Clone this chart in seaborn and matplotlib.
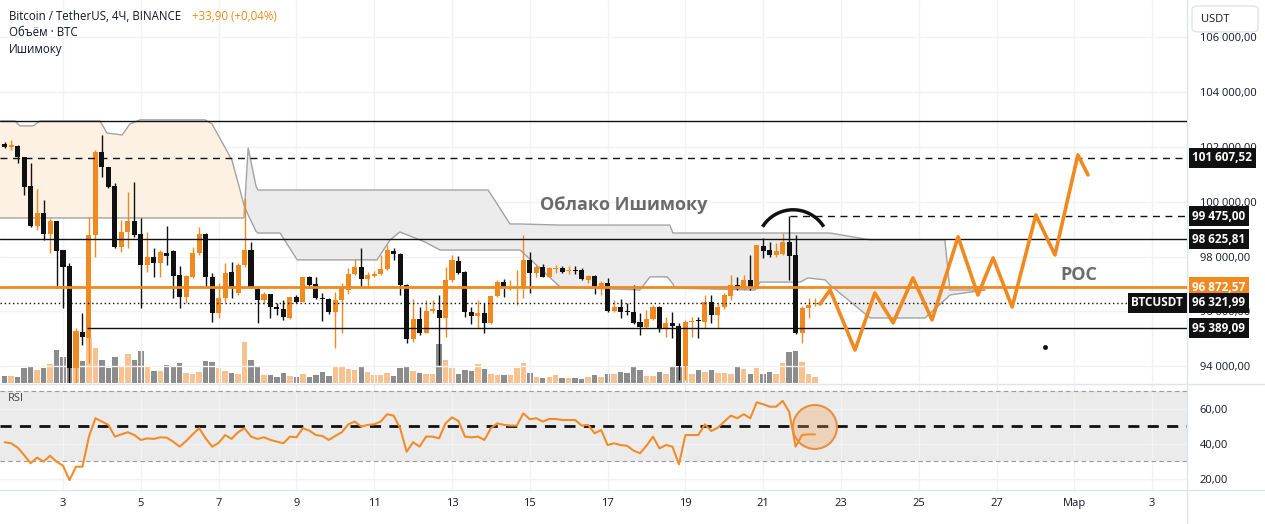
import numpy as np
import seaborn as sns
import matplotlib.pyplot as plt
from matplotlib.patches import Ellipse, FancyBboxPatch
from matplotlib.lines import Line2D

# ---- BTC/USDT 4h candles, 1 Feb 12:00 onwards ----
candle_open = [
    102110, 102000, 102040, 101640, 100580, 99120, 99590, 98820, 99300, 98240,
    97660, 93930, 95250, 95030, 98790, 101820, 101270, 100580, 98350, 98900,
    99300, 98820, 97690, 97990, 97770, 98130, 98200, 97330, 96530, 97260,
    98130, 98820, 97260, 95940, 96490, 97440, 96670, 97690, 98240, 96820,
    96420, 96630, 96160, 96090, 95760, 96530, 96340, 97260, 97000, 96490,
    96450, 95980, 96420, 96780, 97360, 97620, 97180, 97290, 97360, 97550,
    98200, 98090, 96960, 94990, 95720, 95210, 96010, 96050, 95760, 97150,
    97840, 97440, 95980, 95830, 95940, 95580, 96560, 97070, 96850, 96850,
    96850, 97880, 97400, 97620, 97260, 97550, 97580, 97470, 97510, 97510,
    97150, 97290, 96850, 97040, 96010, 96160, 96010, 95980, 95610, 95430,
    95720, 96160, 95390, 95580, 95470, 94010, 95610, 95690, 95610, 96340,
    95870, 96160, 96560, 96960, 96850, 97150, 96850, 98390, 98240, 98060,
    98090, 98530, 98060, 95210, 96120, 96270]
candle_high = [
    102180, 102260, 102070, 101640, 101420, 100470, 100070, 99410, 99300, 98240,
    97770, 95390, 95940, 99450, 101890, 102440, 101270, 100690, 99340, 100360,
    100720, 99410, 98900, 98310, 98240, 99120, 98240, 97660, 97330, 98350,
    99080, 98860, 97400, 97040, 97770, 97800, 97770, 100140, 98530, 96890,
    96710, 96630, 96310, 96420, 96530, 96600, 97260, 97290, 97260, 96670,
    96490, 96710, 97040, 97580, 97910, 98310, 97440, 97470, 98060, 98420,
    98310, 98130, 97000, 96450, 96160, 96420, 96420, 96600, 97620, 98060,
    98020, 97470, 96160, 96420, 96310, 96560, 97150, 97180, 97150, 97510,
    98790, 98170, 97690, 97730, 97620, 97690, 97660, 97660, 97660, 97580,
    97330, 97330, 97110, 97220, 96420, 96450, 96310, 96960, 95940, 96050,
    96230, 96200, 95800, 95980, 95580, 95690, 95800, 95800, 96600, 96600,
    96310, 96670, 97330, 97260, 97330, 98060, 98420, 98680, 98530, 98500,
    98860, 99475, 98790, 96200, 96490, 96490]
candle_low = [
    101960, 101890, 101420, 100250, 99080, 98970, 98610, 98130, 96850, 96120,
    92000, 92800, 94770, 94120, 97990, 100910, 100500, 98310, 98170, 98310,
    98720, 96120, 97440, 97260, 97260, 97690, 96490, 96120, 96310, 97220,
    98060, 96890, 95610, 95760, 96340, 96490, 96600, 97620, 96850, 95580,
    96270, 95760, 95870, 95690, 95720, 96310, 96340, 96850, 96450, 95650,
    95900, 94660, 95210, 96630, 97330, 96890, 96890, 97260, 97330, 97510,
    97880, 96600, 94850, 94880, 95140, 95210, 95940, 94040, 95070, 97070,
    97360, 95800, 95540, 95390, 95210, 95540, 96530, 96530, 96780, 96230,
    96490, 96670, 97260, 97260, 97240, 97400, 97400, 97360, 97360, 97150,
    97040, 96630, 96600, 95980, 95980, 95760, 95870, 95540, 95140, 95390,
    95690, 95250, 95070, 95030, 93500, 93500, 95070, 95030, 95390, 95580,
    95390, 96090, 96420, 96780, 96780, 96780, 96820, 97950, 97990, 97990,
    98060, 97150, 95170, 94850, 95760, 96200]
candle_close = [
    102000, 102070, 101640, 100540, 99120, 99590, 98820, 99300, 98200, 97620,
    93930, 95280, 95070, 98790, 101820, 101270, 100540, 98350, 98900, 99300,
    98790, 97690, 97990, 97770, 98170, 98020, 97290, 96530, 97290, 98130,
    98820, 97260, 95940, 96490, 97400, 96890, 97690, 98240, 96850, 96420,
    96630, 96160, 96090, 95800, 96530, 96340, 97260, 96960, 96490, 96450,
    95980, 96420, 96850, 97360, 97620, 97180, 97330, 97360, 97550, 98240,
    98090, 96960, 94990, 95720, 95210, 96010, 96090, 95760, 97150, 97880,
    97400, 95980, 95830, 95940, 95580, 96560, 97070, 96850, 96890, 96890,
    97880, 97400, 97620, 97260, 97580, 97580, 97440, 97510, 97470, 97180,
    97290, 96930, 97040, 96010, 96160, 95980, 95980, 95580, 95430, 95720,
    96160, 95390, 95580, 95470, 94010, 95610, 95650, 95650, 96340, 95870,
    96160, 96600, 96960, 96850, 97150, 96850, 98420, 98200, 98060, 98200,
    98530, 98020, 95210, 96120, 96230, 96320]
volume_btc = [
    1050, 1050, 900, 2250, 2400, 1950, 2250, 2850, 4950, 3900,
    4650, 3450, 3300, 6750, 5250, 3450, 2250, 3900, 2400, 4350,
    3450, 4800, 2400, 1800, 1800, 2700, 2550, 3000, 1500, 1350,
    1650, 3300, 3150, 2250, 1800, 1500, 1350, 6150, 3450, 2550,
    1200, 1200, 900, 1500, 1050, 900, 1350, 900, 1200, 1650,
    1050, 2400, 2400, 2100, 1950, 2400, 1650, 1200, 1200, 1500,
    1050, 2250, 2550, 1800, 1500, 1350, 1350, 5850, 3450, 2250,
    1350, 1950, 1800, 2850, 2100, 1350, 1200, 1200, 1200, 2250,
    3000, 1500, 900, 750, 900, 1200, 750, 750, 750, 600,
    900, 1200, 900, 1350, 1350, 1650, 1500, 2400, 1950, 1050,
    1050, 1650, 1350, 2400, 2400, 2400, 1350, 1950, 1650, 1950,
    1500, 1500, 1350, 2400, 2100, 1350, 2250, 1350, 1650, 1350,
    3000, 4650, 4800, 3150, 1350, 900]
rsi = [
    41.0, 40.4, 37.9, 33.7, 29.0, 32.2, 29.9, 33.3, 29.9, 27.6,
    19.4, 27.0, 27.0, 44.2, 54.7, 52.8, 50.9, 44.2, 45.5, 46.7,
    45.1, 42.3, 43.2, 42.9, 43.8, 43.6, 41.3, 38.5, 41.7, 45.5,
    49.0, 43.2, 38.5, 40.6, 45.1, 42.9, 46.7, 49.0, 44.2, 42.9,
    43.8, 42.3, 41.3, 40.4, 44.2, 43.8, 49.0, 47.6, 45.1, 44.6,
    42.3, 44.6, 46.7, 51.2, 52.8, 49.9, 50.9, 51.2, 52.8, 57.0,
    56.2, 49.0, 35.6, 41.0, 38.5, 44.2, 44.2, 43.2, 51.8, 55.2,
    53.1, 44.2, 43.8, 44.2, 42.3, 49.0, 51.8, 50.9, 50.5, 50.5,
    57.5, 54.1, 54.7, 52.8, 54.3, 54.3, 53.7, 53.7, 53.7, 50.5,
    50.9, 46.1, 48.0, 39.4, 40.4, 39.4, 39.0, 36.2, 34.7, 39.0,
    44.2, 37.5, 39.4, 38.5, 28.4, 45.1, 45.1, 45.1, 51.2, 47.4,
    49.3, 52.8, 56.2, 54.7, 57.0, 54.7, 63.8, 62.7, 61.3, 61.3,
    64.6, 58.5, 38.5, 45.1, 45.5, 45.5]
first_candle_day = 1.5   # 1 Feb 12:00 (day number counted from Feb 1 = 1)
bars_per_day = 6

# Ichimoku cloud edges (day, price)
cloud_day = [1.38, 1.77, 1.89, 2.23, 2.41, 3.95, 4.13, 4.52, 4.72, 4.98,
             6.65, 6.83, 7.34, 7.55, 7.65, 7.76, 7.96, 8.01, 8.58, 9.02,
             11.07, 11.41, 11.66, 12.31, 12.69, 13.93, 14.49, 14.75, 15.78, 17.83,
             18.09, 18.53, 18.60, 18.68, 18.73, 20.79, 20.92, 21.95, 22.15, 22.59,
             22.72, 23.75, 25.16, 25.67, 25.80, 26.70]
span_a = [102950, 102950, 102770, 102770, 102950, 102950, 102510, 102440, 102840, 102990,
          102990, 102840, 101530, 100430, 99880, 99520, 98930, 98860, 98860, 97880,
          97880, 98610, 98900, 98530, 98240, 98240, 98240, 98240, 96890, 96780,
          97260, 97260, 97150, 97000, 96850, 96780, 97070, 97070, 97220, 97150,
          96960, 95760, 95760, 96420, 96600, 96780]
span_b = [99410, 99410, 99410, 99410, 99410, 99410, 99410, 99410, 99410, 99410,
          99410, 99410, 99410, 99410, 99410, 101960, 100580, 100430, 100430, 100430,
          100430, 100430, 100430, 100430, 100430, 100430, 99190, 99190, 99150, 99150,
          99150, 99150, 99150, 98860, 98860, 98860, 98860, 98860, 98860, 98860,
          98860, 98610, 98610, 98610, 96780, 96780]

# drawn levels
level_top = 102950
level_target = 101607.52
level_high = 99475.00
level_resist = 98625.81
level_poc = 96872.57
last_price = 96321.99
level_support = 95389.09
high_line_start = 21.69
support_line_start = 3.62

# projected path
proj_day = [22.46, 22.72, 23.36, 23.87, 24.34, 24.85, 25.34, 26.01, 26.52, 26.91,
            27.40, 28.01, 28.50, 29.09, 29.35]
proj_price = [96270, 96780, 94590, 96670, 95580, 97220, 95690, 98720, 96600, 97950,
              96160, 99520, 98060, 101710, 100980]

price_ticks = [94000, 96000, 98000, 100000, 102000, 104000, 106000]
price_labels = ['94 000,00', '96 000,00', '98 000,00', '100 000,00', '102 000,00',
                '104 000,00', '106 000,00']
rsi_ticks = [20, 40, 60]
rsi_labels = ['20,00', '40,00', '60,00']
day_ticks = [3, 5, 7, 9, 11, 13, 15, 17, 19, 21, 23, 25, 27, 29, 31]
day_labels = ['3', '5', '7', '9', '11', '13', '15', '17', '19', '21', '23', '25', '27',
              'Мар', '3']

ORANGE = '#f0891f'
BLACK = '#111111'

sns.set_style('white')
plt.rcParams['font.family'] = ['Open Sans', 'DejaVu Sans']

W, H = 1265, 524
fig = plt.figure(figsize=(W / 100, H / 100), dpi=100)
ax = fig.add_axes([0, 1 - 383 / H, 1187 / W, 383 / H])
ax_vol = ax.twinx()
ax_rsi = fig.add_axes([0, 1 - 490 / H, 1187 / W, 105 / H])
ax.set_zorder(2)
ax_vol.set_zorder(1)
ax.patch.set_visible(False)

xlim = (1.38, 31.895)
days = first_candle_day + np.arange(len(candle_open)) / bars_per_day
o = np.array(candle_open)
c = np.array(candle_close)
up = c >= o

# volume underlay
ax_vol.bar(days, volume_btc, width=0.14, color=np.where(up, '#f6c292', '#8c8c8c'), linewidth=0)
ax_vol.set_ylim(0, 57450)
ax_vol.set_yticks([])
ax_vol.set_xlim(*xlim)

# ichimoku cloud
a = np.array(span_a)
b = np.array(span_b)
ax.fill_between(cloud_day, a, b, where=a >= b, interpolate=True, color='#fdf1e4', lw=0, zorder=1)
ax.fill_between(cloud_day, a, b, where=a < b, interpolate=True, color='#ececec', lw=0, zorder=1)
ax.plot(cloud_day, span_a, color='#a3a3a3', lw=1, zorder=1.5)
ax.plot(cloud_day, span_b, color='#a3a3a3', lw=1, zorder=1.5)

# candles
cols = np.where(up, ORANGE, BLACK)
ax.vlines(days, candle_low, candle_high, colors=cols, lw=1, zorder=3)
ax.bar(days, np.maximum(np.abs(c - o), 40), bottom=np.minimum(o, c), width=0.13,
       color=cols, linewidth=0, zorder=3)

# levels
ax.axhline(level_top, color=BLACK, lw=1, zorder=4)
ax.axhline(level_target, color=BLACK, lw=1, ls=(0, (5, 4)), zorder=4)
ax.hlines(level_high, high_line_start, xlim[1], color=BLACK, lw=1, ls=(0, (5, 4)), zorder=4)
ax.axhline(level_resist, color=BLACK, lw=1, zorder=4)
ax.axhline(level_poc, color=ORANGE, lw=2, zorder=4)
ax.hlines(last_price, xlim[0], 30.38, color=BLACK, lw=1, ls=(0, (1, 2)), zorder=4)
ax.hlines(level_support, support_line_start, xlim[1], color=BLACK, lw=1, zorder=4)

# projection and marks
sns.lineplot(x=proj_day, y=proj_price, ax=ax, color=ORANGE, lw=2.6, sort=False, zorder=5)
# top arc over the local high: centre (day, price), half-width in days, half-height in price
arc_cx, arc_cy, arc_rx, arc_ry = 21.77, 98390, 0.928, 1318
t = np.deg2rad(np.linspace(32, 148, 40))
ax.plot(arc_cx + arc_rx * np.cos(t), arc_cy + arc_ry * np.sin(t), color=BLACK, lw=2.5,
        solid_capstyle='butt', zorder=5)
ax.plot([28.24], [94700], 'o', color=BLACK, ms=2.5, zorder=5)
ax.text(15.26, 99880, 'Облако Ишимоку', fontsize=13, fontweight='bold', color='#6b6b6b',
        va='center', ha='left', zorder=5)
ax.text(28.63, 97330, 'POC', fontsize=13, fontweight='bold', color='#6b6b6b',
        va='center', ha='left', zorder=5)

ax.set_xlim(*xlim)
ax.set_ylim(93386, 107365)
ax.yaxis.tick_right()
ax.set_yticks(price_ticks)
ax.set_yticklabels(price_labels)
ax.set_xticks(day_ticks)
ax.tick_params(axis='y', length=0, pad=9, labelsize=8, labelcolor='#131722')
ax.tick_params(axis='x', length=0, labelbottom=False)
ax.grid(True, color='#f2f2f2', lw=1)
for a_ in (ax, ax_vol, ax_rsi):
    for s in a_.spines.values():
        s.set_visible(False)


def price_tag(price, text, fc):
    ax.text(1 + 5.5 / 1187, price, text, transform=ax.get_yaxis_transform(), ha='left',
            va='center', fontsize=8.5, color='white', fontweight='bold', clip_on=False,
            zorder=10, bbox=dict(boxstyle='square,pad=0.3', fc=fc, ec='none'))


price_tag(level_target, '101 607,52', BLACK)
price_tag(level_high, '99 475,00', BLACK)
price_tag(level_resist, '98 625,81', BLACK)
price_tag(level_poc, '96 872,57', ORANGE)
price_tag(last_price, '96 321,99', BLACK)
price_tag(level_support, '95 389,09', BLACK)
ax.text(1183 / 1187, last_price, 'BTCUSDT', transform=ax.get_yaxis_transform(), ha='right',
        va='center', fontsize=8.5, color='white', fontweight='bold', zorder=10,
        bbox=dict(boxstyle='square,pad=0.3', fc=BLACK, ec='none'))

# RSI pane
ax_rsi.axhspan(30, 70, color='#ebebeb', lw=0, zorder=0)
ax_rsi.axhline(70, color='#9a9a9a', lw=0.8, ls=(0, (4, 3)))
ax_rsi.axhline(30, color='#9a9a9a', lw=0.8, ls=(0, (4, 3)))
ax_rsi.axhline(50, color=BLACK, lw=2, ls=(0, (4, 3)))
sns.lineplot(x=days, y=rsi, ax=ax_rsi, color='#f28c28', lw=1.5)
ax_rsi.add_patch(Ellipse((22.33, 49.7), 1.131, 25.1, fc=(0.94, 0.6, 0.3, 0.3),
                         ec='#e8913c', lw=1.5, zorder=4))
ax_rsi.text(8 / 1187, 0.87, 'RSI', transform=ax_rsi.transAxes, fontsize=8, color='#444444',
            va='center')
ax_rsi.set_xlim(*xlim)
ax_rsi.set_ylim(13.7, 73.7)
ax_rsi.yaxis.tick_right()
ax_rsi.set_yticks(rsi_ticks)
ax_rsi.set_yticklabels(rsi_labels)
ax_rsi.set_xticks(day_ticks)
ax_rsi.set_xticklabels(day_labels)
ax_rsi.tick_params(axis='y', length=0, pad=9, labelsize=8, labelcolor='#131722')
ax_rsi.tick_params(axis='x', length=0, pad=6, labelsize=8, labelcolor='#131722')
ax_rsi.grid(True, color='#f2f2f2', lw=1)

# header and chrome
fig.text(9 / W, 1 - 17 / H, 'Bitcoin / TetherUS, 4Ч, BINANCE', fontsize=8.3, color='#131722', va='center')
fig.text(192 / W, 1 - 17 / H, '+33,90 (+0,04%)', fontsize=8.3, color=ORANGE, va='center')
fig.text(9 / W, 1 - 33 / H, 'Объём · BTC', fontsize=8.3, color='#131722', va='center')
fig.text(9 / W, 1 - 49 / H, 'Ишимоку', fontsize=8.3, color='#131722', va='center')
fig.add_artist(FancyBboxPatch((1192 / W, 1 - 32 / H), 66 / W, 26 / H,
                              boxstyle='round,pad=0,rounding_size=0.006',
                              transform=fig.transFigure, fc='white', ec='#e0e3eb', lw=1, zorder=9))
fig.text(1201 / W, 1 - 19 / H, 'USDT', fontsize=8, color='#131722', va='center', zorder=10)
for yy in (384, 490):
    fig.add_artist(Line2D([0, 1], [1 - yy / H] * 2, color='#e0e3eb', lw=1))
fig.add_artist(Line2D([1187 / W] * 2, [0, 1], color='#e0e3eb', lw=1))

fig.savefig('out.png', dpi=100)
